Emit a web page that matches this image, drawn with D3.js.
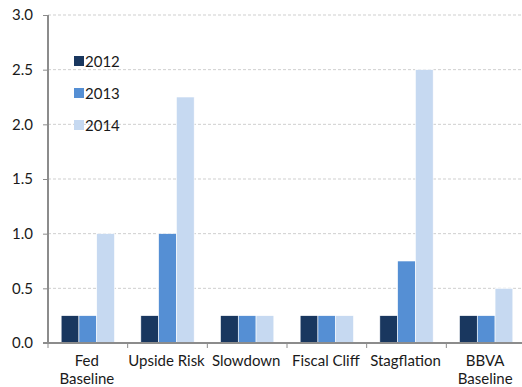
<!DOCTYPE html>
<html>
<head>
<meta charset="utf-8">
<script src="https://cdn.jsdelivr.net/npm/d3@7"></script>
<style>
  html, body { margin: 0; padding: 0; background: #fff; }
  svg text { font-family: Lato, "Open Sans", sans-serif; fill: #1a1a1a; }
</style>
</head>
<body>
<svg id="chart" width="522" height="387"></svg>
<script>
// Fed funds rate path by scenario (%)
const categories = [["Fed", "Baseline"], ["Upside Risk"], ["Slowdown"], ["Fiscal Cliff"], ["Stagflation"], ["BBVA", "Baseline"]];
const years = ["2012", "2013", "2014"];
const values2012 = [0.25, 0.25, 0.25, 0.25, 0.25, 0.25];
const values2013 = [0.25, 1.0, 0.25, 0.25, 0.75, 0.25];
const values2014 = [1.0, 2.25, 0.25, 0.25, 2.5, 0.5];
const yTicks = [0, 0.5, 1.0, 1.5, 2.0, 2.5, 3.0];
const colors = ["#19375f", "#558fd4", "#c6d9f1"];

const series = [values2012, values2013, values2014];
const svg = d3.select("#chart");
const plotLeft = 48, plotRight = 526, plotTop = 15, plotBottom = 343;

const x = d3.scaleBand().domain(d3.range(categories.length)).range([plotLeft, plotRight]).paddingInner(0).paddingOuter(0);
const xSub = d3.scaleBand().domain(years).range([0, x.bandwidth()]).paddingInner(0).paddingOuter(0.74);
const y = d3.scaleLinear().domain([0, 3]).range([plotBottom, plotTop]);

// horizontal dashed gridlines
svg.append("g").selectAll("line").data(yTicks.slice(1)).join("line")
  .attr("x1", plotLeft).attr("x2", plotRight)
  .attr("y1", d => y(d)).attr("y2", d => y(d))
  .attr("stroke", "#cfcfcf").attr("stroke-width", 1).attr("stroke-dasharray", "3,2");

// bars
const groups = svg.append("g").selectAll("g").data(categories).join("g")
  .attr("transform", (d, i) => `translate(${x(i)},0)`);
groups.selectAll("rect").data((d, i) => years.map((yr, k) => ({ yr, v: series[k][i], k })))
  .join("rect")
  .attr("x", d => xSub(d.yr))
  .attr("width", xSub.bandwidth())
  .attr("y", d => y(d.v))
  .attr("height", d => y(0) - y(d.v))
  .attr("fill", d => colors[d.k])
  .attr("stroke", "#fff").attr("stroke-width", 0.6);

// y axis
const yAxis = svg.append("g").attr("transform", `translate(${plotLeft},0)`)
  .call(d3.axisLeft(y).tickValues(yTicks).tickFormat(d3.format(".1f")).tickSize(5).tickPadding(10));
yAxis.select(".domain").attr("stroke", "#8c8c8c").attr("stroke-width", 2).attr("d", `M0,${plotTop}V${plotBottom}`);
yAxis.selectAll(".tick line").attr("stroke", "#8c8c8c").attr("stroke-width", 1);
yAxis.selectAll("text").attr("font-size", 15).style("fill", "#1a1a1a");

// x axis
const xAxis = svg.append("g").attr("transform", `translate(0,${plotBottom})`);
xAxis.append("line").attr("x1", plotLeft - 5).attr("x2", plotRight).attr("y1", 0).attr("y2", 0)
  .attr("stroke", "#8c8c8c").attr("stroke-width", 2);
xAxis.selectAll(".xt").data(d3.range(categories.length)).join("line")
  .attr("x1", d => x(d)).attr("x2", d => x(d)).attr("y1", 0).attr("y2", 5)
  .attr("stroke", "#8c8c8c").attr("stroke-width", 1);
xAxis.selectAll(".xl").data(categories).join("text")
  .attr("text-anchor", "middle").attr("font-size", 15)
  .attr("transform", (d, i) => `translate(${x(i) + x.bandwidth() / 2 - 1},0)`)
  .selectAll("tspan").data(d => d).join("tspan")
  .attr("x", 0).attr("y", (d, j) => 23 + j * 18).text(d => d);

// legend
const legend = svg.append("g").attr("transform", "translate(74,61)");
const li = legend.selectAll("g").data(years).join("g").attr("transform", (d, i) => `translate(0,${i * 32})`);
li.append("rect").attr("x", 0).attr("y", -5).attr("width", 10).attr("height", 10).attr("fill", (d, i) => colors[i]);
li.append("text").attr("x", 11).attr("y", 5.5).attr("font-size", 15).text(d => d);
</script>
</body>
</html>
